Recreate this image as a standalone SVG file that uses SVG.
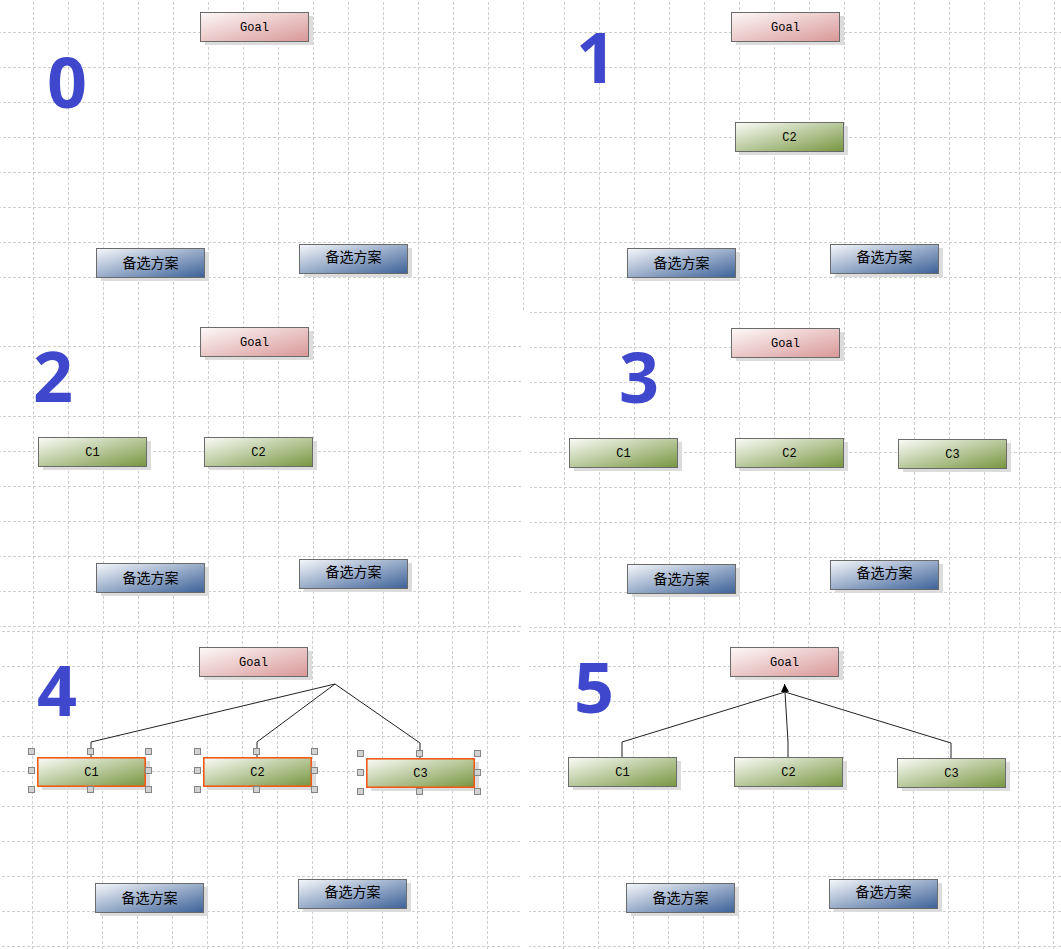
<svg xmlns="http://www.w3.org/2000/svg" width="1061" height="949" viewBox="0 0 1061 949">
<style>
.bg{fill:#fff}
.gl{stroke:#cfcfcf;stroke-width:1;stroke-dasharray:3 2;fill:none}
.sh{fill:#dcdcdc}
.box{stroke:#6b6b6b;stroke-width:1}
.goal{fill:url(#gGoal)}
.crit{fill:url(#gCrit)}
.alt{fill:url(#gAlt)}
.sel{stroke:#f25a1a;stroke-width:1.6}
.lbl{font-family:"Liberation Mono","DejaVu Sans Mono",monospace;font-size:12px;fill:#000;text-anchor:middle}
.cjk{font-family:"Noto Sans CJK SC","Liberation Sans",sans-serif;font-size:14px;fill:#000;text-anchor:middle}
.num{font-family:"Open Sans","Liberation Sans",sans-serif;font-weight:bold;font-size:70px;fill:#3f48cc;text-anchor:middle}
.hd{fill:#d2d2d2;stroke:#858585;stroke-width:1}
.cn{fill:none;stroke:#222;stroke-width:1}
</style>
<defs>
<pattern id="grid" width="35" height="35" patternUnits="userSpaceOnUse">
<path class="gl" d="M0 0.5H35M0.5 0V35"/>
</pattern>
<linearGradient id="gGoal" x1="0" y1="0" x2="1" y2="1"><stop offset="0" stop-color="#fdf9f9"/><stop offset="1" stop-color="#d99797"/></linearGradient>
<linearGradient id="gCrit" x1="0" y1="0" x2="1" y2="1"><stop offset="0" stop-color="#fbfcf8"/><stop offset="1" stop-color="#779640"/></linearGradient>
<linearGradient id="gAlt" x1="0" y1="0" x2="1" y2="1"><stop offset="0" stop-color="#f6f8fb"/><stop offset="1" stop-color="#3c6198"/></linearGradient>
<marker id="arr" markerUnits="userSpaceOnUse" markerWidth="10" markerHeight="10" refX="8" refY="4" orient="auto">
<path d="M0 0L8 4L0 8Z" fill="#000"/>
</marker>
</defs>
<rect class="bg" width="1061" height="949"/>
<g id="grids">
<g transform="translate(33,32)"><rect x="-33" y="-32" width="524" height="310" fill="url(#grid)"/></g>
<g transform="translate(4,32)"><rect x="526" y="-32" width="531" height="310" fill="url(#grid)"/></g>
<g transform="translate(33,31)"><rect x="-33" y="282" width="521" height="315" fill="url(#grid)"/></g>
<g transform="translate(4,32)"><rect x="526" y="279" width="531" height="317" fill="url(#grid)"/></g>
<g transform="translate(32,1)"><rect x="-32" y="628" width="521" height="320" fill="url(#grid)"/></g>
<g transform="translate(3,1)"><rect x="526" y="628" width="532" height="320" fill="url(#grid)"/></g>
</g>
<g id="numbers">
<text class="num" x="67" y="108">0</text>
<text class="num" x="596" y="83">1</text>
<text class="num" x="53" y="402">2</text>
<text class="num" x="639" y="403">3</text>
<text class="num" x="57" y="716">4</text>
<text class="num" x="594" y="713">5</text>
</g>
<g id="connectors">
<polyline class="cn" points="91,757 91,742 335,684"/>
<polyline class="cn" points="257,757 257,742 335,684"/>
<polyline class="cn" points="420,758 420,743 335,684"/>
<polyline class="cn" points="622,757 622,742 785,692"/>
<polyline class="cn" points="788,757 788,742 785,692"/>
<polyline class="cn" points="951,758 951,743 785,692"/>
<path class="cn" d="M785 692L784.6 684" marker-end="url(#arr)"/>
</g>
<!-- panel 0 -->
<g id="goal0" transform="translate(200,12)"><rect class="sh" x="5" y="4" width="108" height="29"/><rect class="box goal" x="0.5" y="0.5" width="108" height="29"/><text class="lbl" x="54.5" y="19">Goal</text></g>
<g id="alt0a" transform="translate(96,248)"><rect class="sh" x="5" y="4" width="108" height="29"/><rect class="box alt" x="0.5" y="0.5" width="108" height="29"/><text class="cjk" x="54.5" y="20">备选方案</text></g>
<g id="alt0b" transform="translate(299,244)"><rect class="sh" x="5" y="4" width="108" height="29"/><rect class="box alt" x="0.5" y="0.5" width="108" height="29"/><text class="cjk" x="54.5" y="18">备选方案</text></g>
<!-- panel 1 -->
<g id="goal1" transform="translate(731,12)"><rect class="sh" x="5" y="4" width="108" height="29"/><rect class="box goal" x="0.5" y="0.5" width="108" height="29"/><text class="lbl" x="54.5" y="19">Goal</text></g>
<g id="c2_1" transform="translate(735,122)"><rect class="sh" x="5" y="4" width="108" height="29"/><rect class="box crit" x="0.5" y="0.5" width="108" height="29"/><text class="lbl" x="54.5" y="19">C2</text></g>
<g id="alt1a" transform="translate(627,248)"><rect class="sh" x="5" y="4" width="108" height="29"/><rect class="box alt" x="0.5" y="0.5" width="108" height="29"/><text class="cjk" x="54.5" y="20">备选方案</text></g>
<g id="alt1b" transform="translate(830,244)"><rect class="sh" x="5" y="4" width="108" height="29"/><rect class="box alt" x="0.5" y="0.5" width="108" height="29"/><text class="cjk" x="54.5" y="18">备选方案</text></g>
<!-- panel 2 -->
<g id="goal2" transform="translate(200,327)"><rect class="sh" x="5" y="4" width="108" height="29"/><rect class="box goal" x="0.5" y="0.5" width="108" height="29"/><text class="lbl" x="54.5" y="19">Goal</text></g>
<g id="c1_2" transform="translate(38,437)"><rect class="sh" x="5" y="4" width="108" height="29"/><rect class="box crit" x="0.5" y="0.5" width="108" height="29"/><text class="lbl" x="54.5" y="19">C1</text></g>
<g id="c2_2" transform="translate(204,437)"><rect class="sh" x="5" y="4" width="108" height="29"/><rect class="box crit" x="0.5" y="0.5" width="108" height="29"/><text class="lbl" x="54.5" y="19">C2</text></g>
<g id="alt2a" transform="translate(96,563)"><rect class="sh" x="5" y="4" width="108" height="29"/><rect class="box alt" x="0.5" y="0.5" width="108" height="29"/><text class="cjk" x="54.5" y="20">备选方案</text></g>
<g id="alt2b" transform="translate(299,559)"><rect class="sh" x="5" y="4" width="108" height="29"/><rect class="box alt" x="0.5" y="0.5" width="108" height="29"/><text class="cjk" x="54.5" y="18">备选方案</text></g>
<!-- panel 3 -->
<g id="goal3" transform="translate(731,328)"><rect class="sh" x="5" y="4" width="108" height="29"/><rect class="box goal" x="0.5" y="0.5" width="108" height="29"/><text class="lbl" x="54.5" y="19">Goal</text></g>
<g id="c1_3" transform="translate(569,438)"><rect class="sh" x="5" y="4" width="108" height="29"/><rect class="box crit" x="0.5" y="0.5" width="108" height="29"/><text class="lbl" x="54.5" y="19">C1</text></g>
<g id="c2_3" transform="translate(735,438)"><rect class="sh" x="5" y="4" width="108" height="29"/><rect class="box crit" x="0.5" y="0.5" width="108" height="29"/><text class="lbl" x="54.5" y="19">C2</text></g>
<g id="c3_3" transform="translate(898,439)"><rect class="sh" x="5" y="4" width="108" height="29"/><rect class="box crit" x="0.5" y="0.5" width="108" height="29"/><text class="lbl" x="54.5" y="19">C3</text></g>
<g id="alt3a" transform="translate(627,564)"><rect class="sh" x="5" y="4" width="108" height="29"/><rect class="box alt" x="0.5" y="0.5" width="108" height="29"/><text class="cjk" x="54.5" y="20">备选方案</text></g>
<g id="alt3b" transform="translate(830,560)"><rect class="sh" x="5" y="4" width="108" height="29"/><rect class="box alt" x="0.5" y="0.5" width="108" height="29"/><text class="cjk" x="54.5" y="18">备选方案</text></g>
<!-- panel 4 -->
<g id="goal4" transform="translate(199,647)"><rect class="sh" x="5" y="4" width="108" height="29"/><rect class="box goal" x="0.5" y="0.5" width="108" height="29"/><text class="lbl" x="54.5" y="19">Goal</text></g>
<g id="c1_4" transform="translate(37,757)"><rect class="sh" x="5" y="4" width="108" height="29"/><rect class="sel crit" x="0.8" y="0.8" width="107.4" height="28.4"/><text class="lbl" x="54.5" y="19">C1</text>
<rect class="hd" x="-8.5" y="-8.5" width="6" height="6"/><rect class="hd" x="50.5" y="-8.5" width="6" height="6"/><rect class="hd" x="108.5" y="-8.5" width="6" height="6"/><rect class="hd" x="-8.5" y="10.5" width="6" height="6"/><rect class="hd" x="108.5" y="10.5" width="6" height="6"/><rect class="hd" x="-8.5" y="29.5" width="6" height="6"/><rect class="hd" x="50.5" y="29.5" width="6" height="6"/><rect class="hd" x="108.5" y="29.5" width="6" height="6"/></g>
<g id="c2_4" transform="translate(203,757)"><rect class="sh" x="5" y="4" width="108" height="29"/><rect class="sel crit" x="0.8" y="0.8" width="107.4" height="28.4"/><text class="lbl" x="54.5" y="19">C2</text>
<rect class="hd" x="-8.5" y="-8.5" width="6" height="6"/><rect class="hd" x="50.5" y="-8.5" width="6" height="6"/><rect class="hd" x="108.5" y="-8.5" width="6" height="6"/><rect class="hd" x="-8.5" y="10.5" width="6" height="6"/><rect class="hd" x="108.5" y="10.5" width="6" height="6"/><rect class="hd" x="-8.5" y="29.5" width="6" height="6"/><rect class="hd" x="50.5" y="29.5" width="6" height="6"/><rect class="hd" x="108.5" y="29.5" width="6" height="6"/></g>
<g id="c3_4" transform="translate(366,758)"><rect class="sh" x="5" y="4" width="108" height="29"/><rect class="sel crit" x="0.8" y="0.8" width="107.4" height="28.4"/><text class="lbl" x="54.5" y="19">C3</text>
<rect class="hd" x="-8.5" y="-7.5" width="6" height="6"/><rect class="hd" x="50.5" y="-7.5" width="6" height="6"/><rect class="hd" x="108.5" y="-7.5" width="6" height="6"/><rect class="hd" x="-8.5" y="11.5" width="6" height="6"/><rect class="hd" x="108.5" y="11.5" width="6" height="6"/><rect class="hd" x="-8.5" y="30.5" width="6" height="6"/><rect class="hd" x="50.5" y="30.5" width="6" height="6"/><rect class="hd" x="108.5" y="30.5" width="6" height="6"/></g>
<g id="alt4a" transform="translate(95,883)"><rect class="sh" x="5" y="4" width="108" height="29"/><rect class="box alt" x="0.5" y="0.5" width="108" height="29"/><text class="cjk" x="54.5" y="20">备选方案</text></g>
<g id="alt4b" transform="translate(298,879)"><rect class="sh" x="5" y="4" width="108" height="29"/><rect class="box alt" x="0.5" y="0.5" width="108" height="29"/><text class="cjk" x="54.5" y="18">备选方案</text></g>
<!-- panel 5 -->
<g id="goal5" transform="translate(730,647)"><rect class="sh" x="5" y="4" width="108" height="29"/><rect class="box goal" x="0.5" y="0.5" width="108" height="29"/><text class="lbl" x="54.5" y="19">Goal</text></g>
<g id="c1_5" transform="translate(568,757)"><rect class="sh" x="5" y="4" width="108" height="29"/><rect class="box crit" x="0.5" y="0.5" width="108" height="29"/><text class="lbl" x="54.5" y="19">C1</text></g>
<g id="c2_5" transform="translate(734,757)"><rect class="sh" x="5" y="4" width="108" height="29"/><rect class="box crit" x="0.5" y="0.5" width="108" height="29"/><text class="lbl" x="54.5" y="19">C2</text></g>
<g id="c3_5" transform="translate(897,758)"><rect class="sh" x="5" y="4" width="108" height="29"/><rect class="box crit" x="0.5" y="0.5" width="108" height="29"/><text class="lbl" x="54.5" y="19">C3</text></g>
<g id="alt5a" transform="translate(626,883)"><rect class="sh" x="5" y="4" width="108" height="29"/><rect class="box alt" x="0.5" y="0.5" width="108" height="29"/><text class="cjk" x="54.5" y="20">备选方案</text></g>
<g id="alt5b" transform="translate(829,879)"><rect class="sh" x="5" y="4" width="108" height="29"/><rect class="box alt" x="0.5" y="0.5" width="108" height="29"/><text class="cjk" x="54.5" y="18">备选方案</text></g>
</svg>
